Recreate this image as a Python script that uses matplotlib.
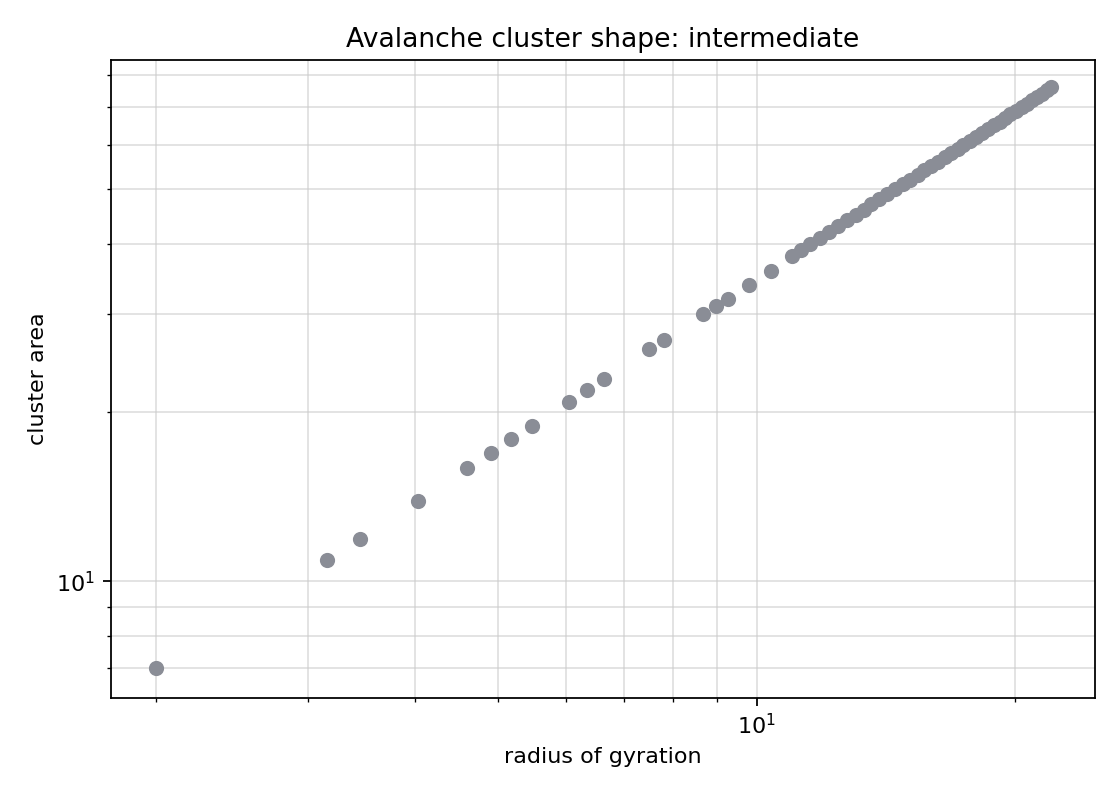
import matplotlib
matplotlib.use("Agg")
import matplotlib.pyplot as plt

radius = [2.0, 3.16, 3.45, 4.03, 4.6, 4.9, 5.18, 5.47, 6.05, 6.34, 6.64, 7.5, 7.8, 8.65, 8.96, 9.25, 9.8, 10.4,
          10.98, 11.25, 11.55, 11.85, 12.15, 12.45, 12.75, 13.05, 13.35, 13.6, 13.9, 14.2, 14.5, 14.8, 15.1,
          15.4, 15.65, 15.95, 16.25, 16.55, 16.85, 17.15, 17.4, 17.7, 18.0, 18.3, 18.6, 18.9, 19.2, 19.45,
          19.75, 20.05, 20.35, 20.65, 20.95, 21.2, 21.5, 21.8, 22.0]
area = [7, 10.9, 11.9, 13.9, 15.9, 16.9, 17.9, 18.9, 20.9, 21.9, 22.9, 25.9, 26.9, 29.9, 30.9, 31.8, 33.8, 35.8,
        38, 39, 40, 41, 42, 43, 44, 45, 46, 47, 48, 49, 50, 51, 52, 53, 54, 55, 56, 57, 58, 59, 60, 61, 62,
        63, 64, 65, 66, 67, 68, 69, 70, 71, 72, 73, 74, 75, 76]

fig, ax = plt.subplots(figsize=(7, 5), dpi=160)
ax.scatter(radius, area, s=34, color="#8a8d96", zorder=3)
ax.set_xscale("log")
ax.set_yscale("log")
ax.set_xlim(1.77, 24.8)
ax.set_ylim(6.2, 85)
ax.grid(True, which="both", color="#cccccc", alpha=0.6, linewidth=0.8)
ax.set_title("Avalanche cluster shape: intermediate")
ax.set_xlabel("radius of gyration")
ax.set_ylabel("cluster area")
fig.subplots_adjust(left=0.099, right=0.978, top=0.925, bottom=0.128)
fig.savefig("out.png")
